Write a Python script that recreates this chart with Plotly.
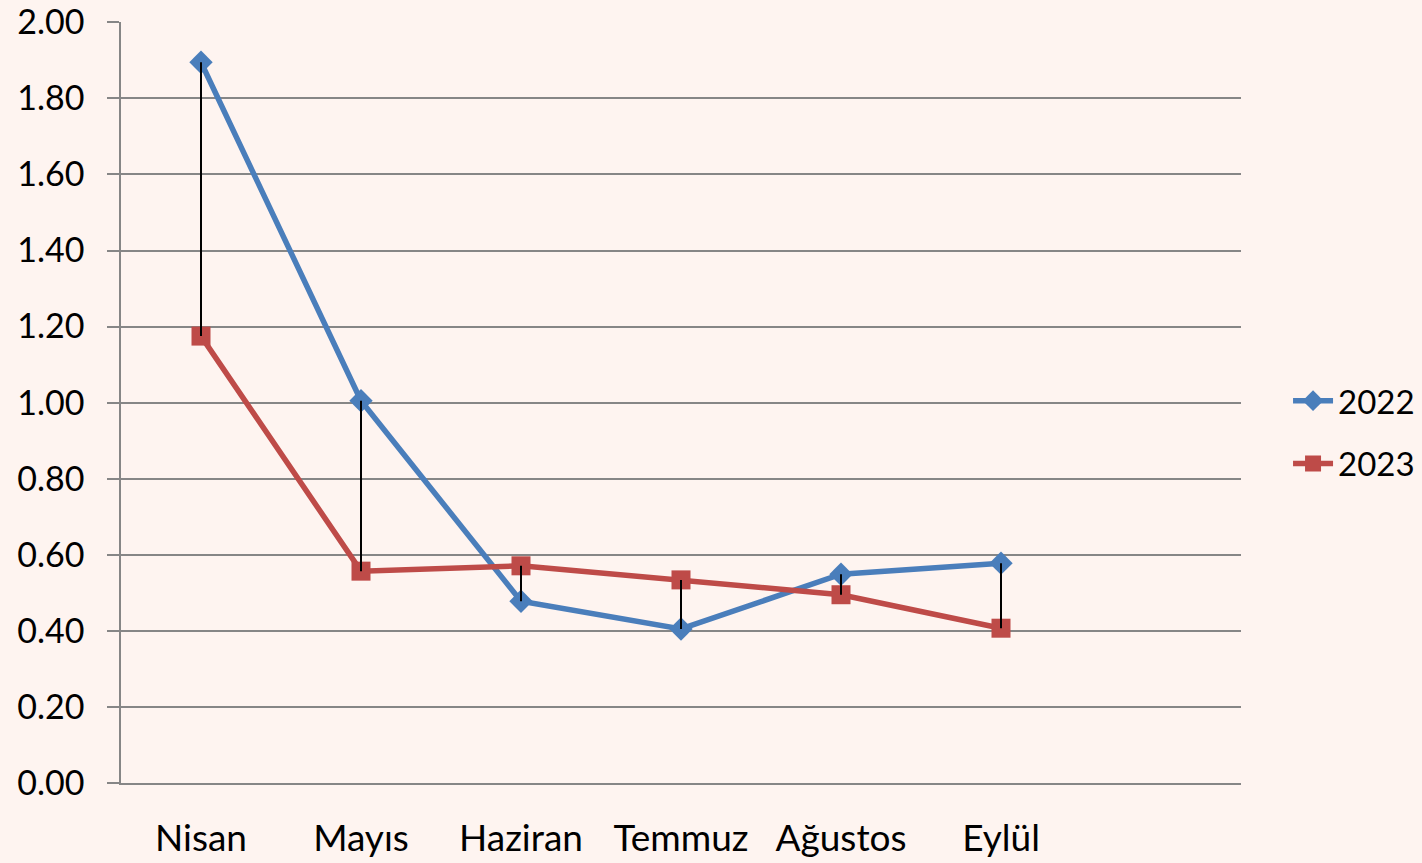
import plotly.graph_objects as go

months = ["Nisan", "Mayıs", "Haziran", "Temmuz", "Ağustos", "Eylül"]
v2022 = [1.895, 1.005, 0.478, 0.405, 0.549, 0.578]
v2023 = [1.175, 0.557, 0.571, 0.534, 0.495, 0.407]
yticks = [0.0, 0.2, 0.4, 0.6, 0.8, 1.0, 1.2, 1.4, 1.6, 1.8, 2.0]

xs = list(range(len(months)))
BG = "#FEF4F0"
FONT = "Lato"

fig = go.Figure()
fig.add_trace(go.Scatter(
    x=xs, y=v2022, name="2022", mode="lines+markers", legendgroup="a",
    line=dict(color="#4A7EBB", width=5.5),
    marker=dict(symbol="diamond", size=18, color="#4A7EBB"),
))
fig.add_trace(go.Scatter(
    x=xs, y=v2023, name="2023", mode="lines+markers", legendgroup="b",
    line=dict(color="#BE4B48", width=5.5),
    marker=dict(symbol="square", size=19, color="#BE4B48"),
))

hx, hy = [], []
for i, (a, b) in enumerate(zip(v2022, v2023)):
    hx += [i, i, None]
    hy += [a, b, None]
fig.add_trace(go.Scatter(
    x=hx, y=hy, mode="lines", showlegend=False, hoverinfo="skip",
    line=dict(color="black", width=2),
))

fig.update_layout(
    width=1422, height=863,
    paper_bgcolor=BG, plot_bgcolor=BG,
    margin=dict(l=121, r=181, t=22, b=80, autoexpand=False),
    font=dict(family=FONT, size=37, color="black"),
    showlegend=True,
    legend=dict(x=1.042, y=0.461, xanchor="left", yanchor="middle",
                bgcolor="rgba(0,0,0,0)", font=dict(size=33),
                itemwidth=40, tracegroupgap=17),
    xaxis=dict(
        tickmode="array", tickvals=xs, ticktext=months,
        range=[-0.5, 6.5], showgrid=False, zeroline=False,
        showline=True, linecolor="#868686", linewidth=1.5,
        ticks="", ticklabelstandoff=22, automargin=False,
    ),
    yaxis=dict(
        tickmode="array", tickvals=yticks,
        ticktext=[f"{t:.2f}" for t in yticks],
        range=[0, 2.0008], showgrid=True, gridcolor="#868686", gridwidth=1.5,
        zeroline=False, showline=True, linecolor="#868686", linewidth=1.5,
        ticks="outside", ticklen=12, tickcolor="#868686", tickwidth=1.5,
        ticklabelstandoff=16, automargin=False, tickfont=dict(size=34),
        ticklabeloverflow="allow",
    ),
)

fig.write_html("out.html", config={"displayModeBar": False},
               post_script="document.body.style.margin='0';document.body.style.overflow='hidden';")
